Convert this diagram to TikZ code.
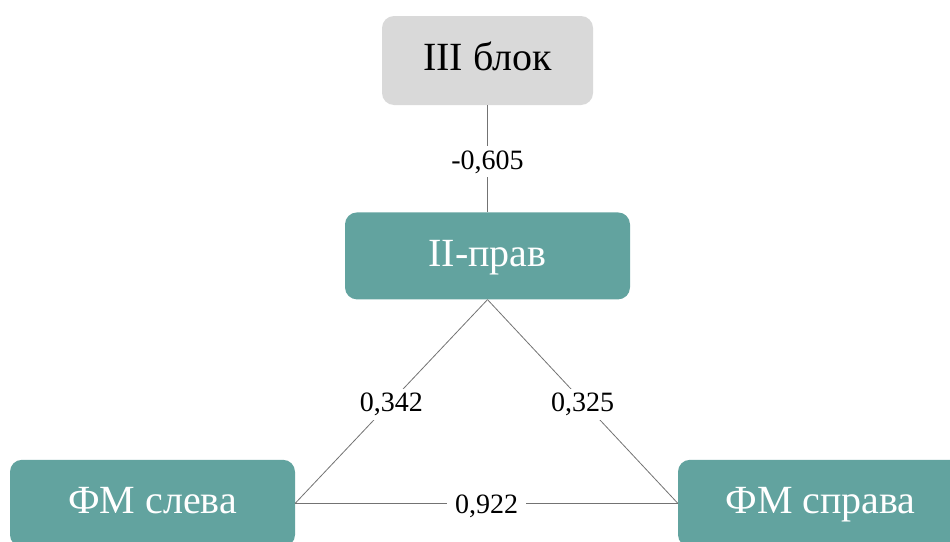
\documentclass[tikz,border=0pt]{standalone}
\usepackage{fontspec}
\setmainfont{Liberation Serif}
\usetikzlibrary{positioning}
\definecolor{boxteal}{HTML}{62A39F}
\definecolor{boxgray}{HTML}{D9D9D9}
\tikzstyle{process} = [rectangle, rounded corners=12pt, minimum width=285pt, minimum height=87pt, inner sep=0pt, text height=26.5pt, text depth=6pt, text centered, fill=boxteal, text=white, font=\fontsize{40}{48}\selectfont]
\tikzstyle{topbox} = [process, minimum width=211pt, minimum height=89pt, fill=boxgray, text=black]
\tikzstyle{link} = [draw=black!55, line width=0.8pt]
\tikzstyle{weight} = [fill=white, inner xsep=8pt, inner ysep=4pt, yshift=-3pt, text height=19pt, text depth=4pt, font=\fontsize{28}{32}\selectfont]

\begin{document}
\begin{tikzpicture}[x=1pt, y=1pt]
\useasboundingbox (0,0) rectangle (950,-541);
\node (blok) [topbox] at (487.5,-60.5) {III блок};
\node (prav) [process, below=107pt of blok] {II-прав};
\node (sleva) [process, below=160pt of prav, xshift=-335pt] {ФМ слева};
\node (sprava) [process, below=160pt of prav, xshift=333pt] {ФМ справа};

\draw [link] (blok) -- node[weight] {-0,605} (prav);
\draw [link] (prav.south) -- node[weight] {0,342} (sleva.east);
\draw [link] (prav.south) -- node[weight] {0,325} (sprava.west);
\draw [link] (sleva.east) -- node[weight] {0,922} (sprava.west);
\end{tikzpicture}
\end{document}
